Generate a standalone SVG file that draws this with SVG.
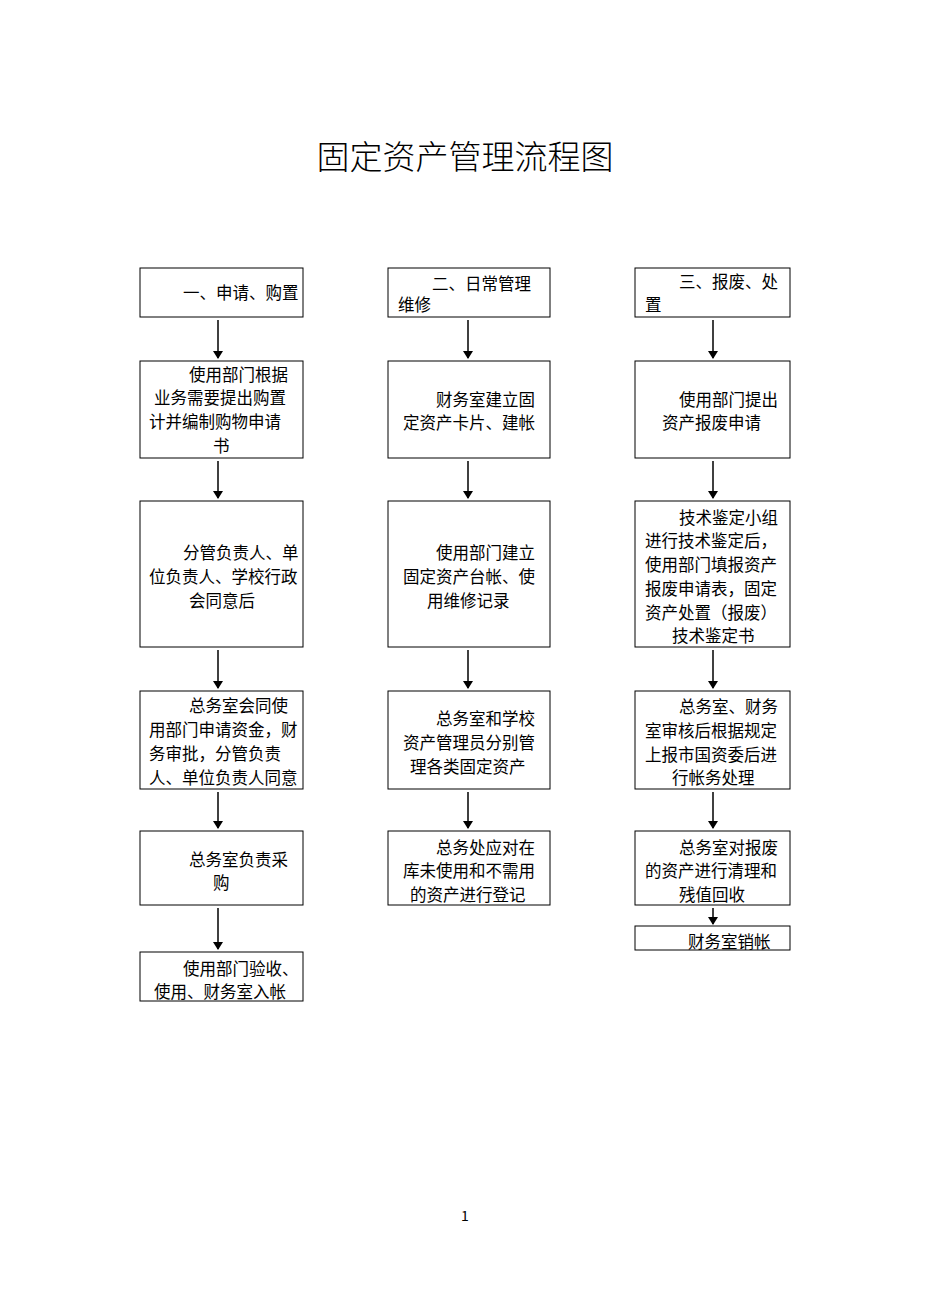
<svg xmlns="http://www.w3.org/2000/svg" width="930" height="1315" viewBox="0 0 930 1315">
<style>
.b{fill:#fff;stroke:#000;stroke-width:1}
text{font-family:"Noto Sans CJK SC","Liberation Sans",sans-serif;font-size:16.5px;fill:#000}
.t{font-size:33px;font-weight:300}
.c line{stroke:#000;stroke-width:1.5;marker-end:url(#a)}
</style>
<defs><marker id="a" markerWidth="8" markerHeight="10" refX="7" refY="5" orient="auto" markerUnits="userSpaceOnUse"><path d="M0,0L8,5L0,10z" fill="#000"/></marker></defs>
<rect width="930" height="1315" fill="#fff"/>
<text class="t" x="465" y="169" text-anchor="middle">固定资产管理流程图</text>
<g class="c">
<line x1="218" y1="320" x2="218" y2="358"/><line x1="218" y1="461" x2="218" y2="498"/><line x1="218" y1="650" x2="218" y2="688"/><line x1="218" y1="792" x2="218" y2="828"/><line x1="218" y1="908" x2="218" y2="949"/>
<line x1="468" y1="320" x2="468" y2="358"/><line x1="468" y1="461" x2="468" y2="498"/><line x1="468" y1="650" x2="468" y2="688"/><line x1="468" y1="792" x2="468" y2="828"/>
<line x1="713" y1="320" x2="713" y2="358"/><line x1="713" y1="461" x2="713" y2="498"/><line x1="713" y1="650" x2="713" y2="688"/><line x1="713" y1="792" x2="713" y2="828"/><line x1="713" y1="908" x2="713" y2="924"/>
</g>
<g id="a1"><rect class="b" x="140" y="268" width="163" height="49"/><text x="183" y="299">一、申请、购置</text></g>
<g id="a2"><rect class="b" x="140" y="361" width="163" height="97"/><text x="189" y="381">使用部门根据</text><text x="154" y="404">业务需要提出购置</text><text x="149" y="428">计并编制购物申请</text><text x="213" y="452">书</text></g>
<g id="a3"><rect class="b" x="140" y="501" width="163" height="146"/><text x="183" y="559">分管负责人、单</text><text x="149" y="583">位负责人、学校行政</text><text x="189" y="607">会同意后</text></g>
<g id="a4"><rect class="b" x="140" y="691" width="163" height="98"/><text x="189" y="712">总务室会同使</text><text x="149" y="736">用部门申请资金，财</text><text x="149" y="760">务审批，分管负责</text><text x="149" y="784">人、单位负责人同意</text></g>
<g id="a5"><rect class="b" x="140" y="831" width="163" height="74"/><text x="189" y="866">总务室负责采</text><text x="213" y="889">购</text></g>
<g id="a6"><rect class="b" x="140" y="952" width="163" height="49"/><text x="183" y="975">使用部门验收、</text><text x="154" y="998">使用、财务室入帐</text></g>
<g id="b1"><rect class="b" x="388" y="268" width="162" height="49"/><text x="432" y="290">二、日常管理</text><text x="398" y="311">维修</text></g>
<g id="b2"><rect class="b" x="388" y="361" width="162" height="97"/><text x="436" y="406">财务室建立固</text><text x="403" y="429">定资产卡片、建帐</text></g>
<g id="b3"><rect class="b" x="388" y="501" width="162" height="146"/><text x="436" y="559">使用部门建立</text><text x="403" y="583">固定资产台帐、使</text><text x="427" y="607">用维修记录</text></g>
<g id="b4"><rect class="b" x="388" y="691" width="162" height="98"/><text x="436" y="725">总务室和学校</text><text x="403" y="749">资产管理员分别管</text><text x="410" y="773">理各类固定资产</text></g>
<g id="b5"><rect class="b" x="388" y="831" width="162" height="74"/><text x="436" y="854">总务处应对在</text><text x="403" y="877">库未使用和不需用</text><text x="410" y="901">的资产进行登记</text></g>
<g id="c1"><rect class="b" x="635" y="268" width="155" height="49"/><text x="679" y="288">三、报废、处</text><text x="645" y="311">置</text></g>
<g id="c2"><rect class="b" x="635" y="361" width="155" height="97"/><text x="679" y="406">使用部门提出</text><text x="662" y="429">资产报废申请</text></g>
<g id="c3"><rect class="b" x="635" y="501" width="155" height="146"/><text x="679" y="524">技术鉴定小组</text><text x="645" y="547">进行技术鉴定后，</text><text x="645" y="571">使用部门填报资产</text><text x="645" y="595">报废申请表，固定</text><text x="645" y="619">资产处置（报废）</text><text x="672" y="642">技术鉴定书</text></g>
<g id="c4"><rect class="b" x="635" y="691" width="155" height="98"/><text x="679" y="713">总务室、财务</text><text x="645" y="737">室审核后根据规定</text><text x="645" y="761">上报市国资委后进</text><text x="672" y="784">行帐务处理</text></g>
<g id="c5"><rect class="b" x="635" y="831" width="155" height="74"/><text x="679" y="854">总务室对报废</text><text x="645" y="877">的资产进行清理和</text><text x="679" y="901">残值回收</text></g>
<g id="c6"><rect class="b" x="635" y="926" width="155" height="24"/><text x="688" y="948">财务室销帐</text></g>
<text x="465" y="1221" text-anchor="middle" style="font-size:14px">1</text>
</svg>
